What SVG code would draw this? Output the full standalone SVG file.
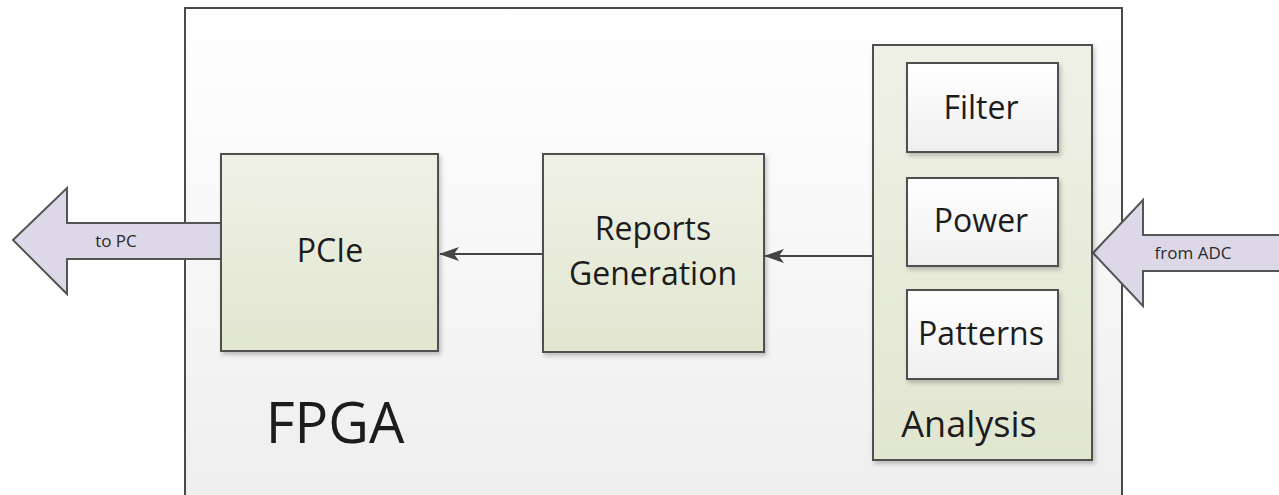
<svg xmlns="http://www.w3.org/2000/svg" width="1279" height="495" viewBox="0 0 1279 495">
  <defs>
    <linearGradient id="gFpga" x1="0" y1="0" x2="0" y2="1">
      <stop offset="0" stop-color="#ffffff"/>
      <stop offset="1" stop-color="#eeeeee"/>
    </linearGradient>
    <linearGradient id="gGreen" x1="0" y1="0" x2="0" y2="1">
      <stop offset="0" stop-color="#eff1e6"/>
      <stop offset="1" stop-color="#e1e6d0"/>
    </linearGradient>
    <linearGradient id="gWhite" x1="0" y1="0" x2="0" y2="1">
      <stop offset="0" stop-color="#ffffff"/>
      <stop offset="1" stop-color="#efefef"/>
    </linearGradient>
    <filter id="shadow" x="-10%" y="-10%" width="130%" height="130%">
      <feDropShadow dx="2" dy="3" stdDeviation="2" flood-color="#000" flood-opacity="0.22"/>
    </filter>
    <marker id="arrow" viewBox="0 0 20 14" refX="19" refY="7" markerWidth="20" markerHeight="14" markerUnits="userSpaceOnUse" orient="auto">
      <path d="M0,0 L20,7 L0,14 L5,7 Z" fill="#444"/>
    </marker>
    <style>
      .frame { stroke: #4a4a4a; stroke-width: 2; }
      .green { fill: url(#gGreen); stroke: #4f4f4f; stroke-width: 2; filter: url(#shadow); }
      .white { fill: url(#gWhite); stroke: #4f4f4f; stroke-width: 2; filter: url(#shadow); }
      .bigarrow { fill: #ddd8e8; stroke: #555; stroke-width: 2; stroke-linejoin: miter; }
      .lbl { font-family: "Open Sans", "Liberation Sans", sans-serif; fill: #1c1c1c; text-anchor: middle; }
      .box { font-size: 32px; }
      .small { font-size: 17px; fill: #2a2a2a; }
      .conn { stroke: #444; stroke-width: 2; fill: none; marker-end: url(#arrow); }
    </style>
  </defs>

  <rect x="0" y="0" width="1279" height="495" fill="#ffffff"/>

  <!-- FPGA outline -->
  <g id="fpga">
    <rect x="185" y="8" width="937" height="500" fill="url(#gFpga)" class="frame"/>
    <text x="335" y="443" class="lbl" font-size="56px">FPGA</text>
  </g>

  <!-- external data paths -->
  <g id="to-pc">
    <polygon class="bigarrow" points="13,240 67,188 67,223 226,223 226,259 67,259 67,294"/>
    <text x="116" y="247" class="lbl small">to PC</text>
  </g>
  <g id="from-adc">
    <polygon class="bigarrow" points="1093,253 1143,200 1143,235 1290,235 1290,271 1143,271 1143,306"/>
    <text x="1193" y="259" class="lbl small">from ADC</text>
  </g>

  <g id="pcie">
    <rect x="221" y="154" width="217" height="197" class="green"/>
    <text x="330" y="262" class="lbl box">PCIe</text>
  </g>

  <g id="reports">
    <rect x="543" y="154" width="221" height="198" class="green"/>
    <text x="653" y="240" class="lbl box">Reports</text>
    <text x="653" y="285" class="lbl box">Generation</text>
  </g>

  <g id="analysis">
    <rect x="873" y="45" width="219" height="415" class="green"/>
    <text x="969" y="437" class="lbl" font-size="36px">Analysis</text>
  </g>

  <g id="filter">
    <rect x="907" y="63" width="151" height="89" class="white"/>
    <text x="981" y="119" class="lbl box">Filter</text>
  </g>

  <g id="power">
    <rect x="907" y="178" width="151" height="88" class="white"/>
    <text x="981" y="232" class="lbl box">Power</text>
  </g>

  <g id="patterns">
    <rect x="907" y="290" width="151" height="89" class="white"/>
    <text x="981" y="345" class="lbl box">Patterns</text>
  </g>

  <!-- internal connectors -->
  <g id="connectors">
    <line x1="543" y1="254" x2="440" y2="254" class="conn"/>
    <line x1="873" y1="256" x2="765" y2="256" class="conn"/>
  </g>
</svg>
